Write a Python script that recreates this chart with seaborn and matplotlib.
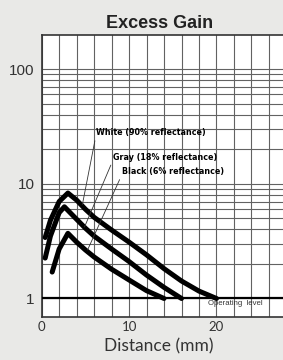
import matplotlib
matplotlib.use("Agg")
import matplotlib.pyplot as plt
import seaborn as sns
import pandas as pd
import numpy as np
from matplotlib.ticker import FixedLocator, NullFormatter

# ---- data ----
white_x = [0.4, 1.0, 2.0, 3.0, 4.0, 5.0, 6.0, 8.0, 10.0, 12.0, 14.0, 16.0, 18.0, 20.0]
white_y = [3.4, 4.8, 7.0, 8.3, 7.2, 6.0, 5.1, 3.95, 3.1, 2.4, 1.82, 1.42, 1.16, 1.0]
gray_x = [0.4, 1.0, 2.0, 2.6, 4.0, 5.0, 6.0, 8.0, 10.0, 12.0, 14.0, 16.0]
gray_y = [2.25, 3.5, 5.6, 6.3, 4.9, 4.1, 3.5, 2.7, 2.1, 1.6, 1.25, 1.0]
black_x = [1.2, 2.0, 3.0, 4.0, 5.0, 6.0, 8.0, 10.0, 12.0, 14.0]
black_y = [1.7, 2.7, 3.7, 3.1, 2.65, 2.3, 1.8, 1.45, 1.17, 1.0]

series_labels = ["White (90% reflectance)", "Gray (18% reflectance)", "Black (6% reflectance)"]
x_tick_labels = ["0", "10", "20"]
y_tick_labels = ["1", "10", "100"]
operating_level = 1.0

df = pd.concat([
    pd.DataFrame({"distance": white_x, "gain": white_y, "series": series_labels[0]}),
    pd.DataFrame({"distance": gray_x, "gain": gray_y, "series": series_labels[1]}),
    pd.DataFrame({"distance": black_x, "gain": black_y, "series": series_labels[2]}),
], ignore_index=True)

sns.set_theme(style="white")
plt.rcParams["font.family"] = ["Liberation Sans", "DejaVu Sans"]

BG = "#e9e9e7"
GRID = "#626262"
fig = plt.figure(figsize=(2.83, 3.60), dpi=100, facecolor=BG)
ax = fig.add_axes([0.1473, 0.1203, 0.8647, 0.7825])
ax.set_facecolor("white")

sns.lineplot(data=df, x="distance", y="gain", hue="series",
             palette=["black", "black", "black"], sort=False, estimator=None,
             legend=False, lw=3.6, ax=ax, zorder=5,
             solid_capstyle="round", solid_joinstyle="round")

ax.set_yscale("log")
ax.set_xlim(0, 28)
ax.set_ylim(0.694, 198)

# ticks / grid
ax.xaxis.set_major_locator(FixedLocator([0, 10, 20]))
ax.set_xticklabels(x_tick_labels)
ax.xaxis.set_minor_locator(FixedLocator(np.arange(2, 28, 2)))
ax.yaxis.set_major_locator(FixedLocator([1, 10, 100]))
ax.set_yticklabels(y_tick_labels)
ax.yaxis.set_minor_locator(FixedLocator([2, 3, 4, 5, 6, 7, 8, 9, 20, 30, 40, 50, 60, 70, 80, 90]))
ax.yaxis.set_minor_formatter(NullFormatter())
ax.grid(True, which="both", color=GRID, lw=0.8)
ax.tick_params(which="both", length=0)
ax.tick_params(axis="y", labelsize=11, pad=5, colors="#333333")
ax.tick_params(axis="x", labelsize=9.5, pad=3, colors="#333333")
for lab in ax.get_xticklabels():
    lab.set_family(["Lato", "DejaVu Sans"])

ax.axhline(operating_level, color="black", lw=1.6, zorder=4)

for s in ax.spines.values():
    s.set_color("#333333")
    s.set_linewidth(1.2)

ax.set_title("Excess Gain", fontsize=13, fontweight="bold", color="#222222", pad=5, x=0.48)
ax.set_xlabel("Distance (mm)", fontsize=12.5, color="#333333", labelpad=1,
              family=["Lato", "DejaVu Sans"])
ax.xaxis.set_label_coords(0.48, -0.075)
ax.set_ylabel("")

# annotations with leader lines
ann_text_pos = [(6.2, 27.7), (8.16, 17.0), (9.18, 12.7)]
ann_point = [(4.66, 6.6), (4.9, 4.2), (5.25, 2.65)]
for lab, tp, pp in zip(series_labels, ann_text_pos, ann_point):
    ax.annotate(lab, xy=pp, xytext=tp, ha="left", va="center",
                fontsize=5.8, fontweight="bold", color="black",
                family=["DejaVu Sans"], zorder=6,
                arrowprops=dict(arrowstyle="-", lw=0.6, color="#333333",
                                relpos=(0.0, 0.2), shrinkA=0, shrinkB=0))

ax.text(22.1, 0.905, "Operating  level", fontsize=5.6, color="#333333",
        ha="center", va="center", zorder=6)

fig.savefig("out.png", dpi=100, facecolor=BG)
